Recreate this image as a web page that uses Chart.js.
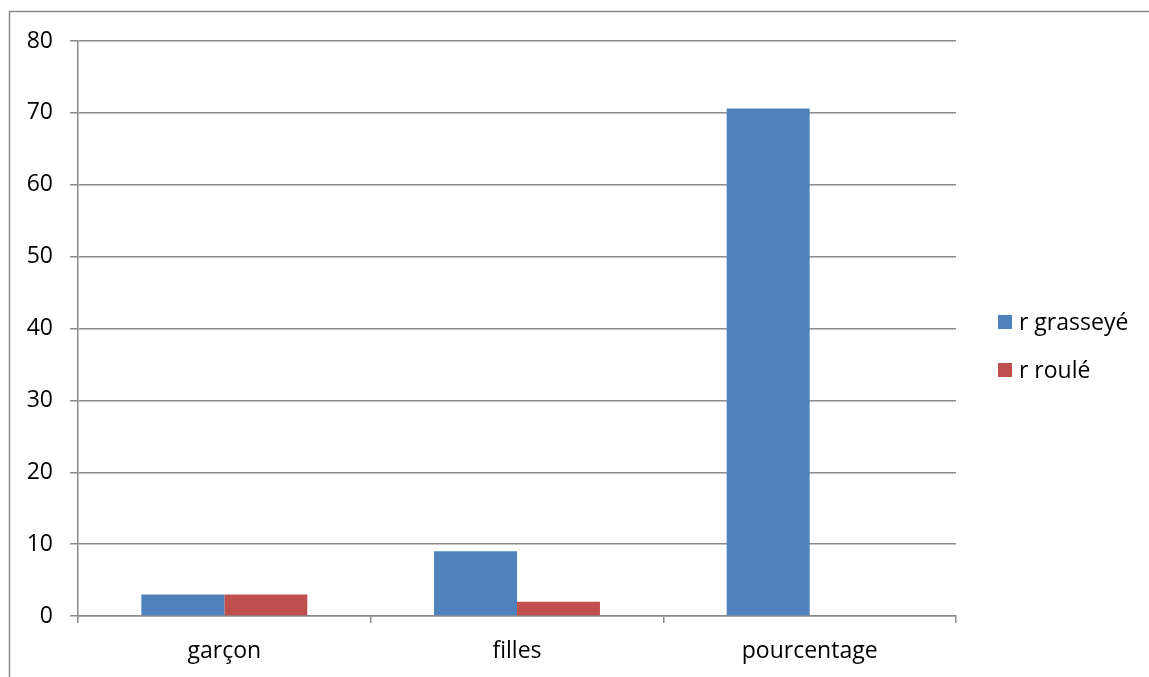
<!DOCTYPE html>
<html>
<head>
<meta charset="utf-8">
<script src="https://cdn.jsdelivr.net/npm/chart.js@4"></script>
<style>
  html, body { margin: 0; padding: 0; background: #ffffff; }
  #wrap { width: 1149px; height: 677px; position: relative; }
</style>
</head>
<body>
<div id="wrap"><canvas id="c" width="1149" height="677"></canvas></div>
<script>
const categories = ['garçon', 'filles', 'pourcentage'];
const seriesNames = ['r grasseyé', 'r roulé'];
const grasseye = [3, 9, 70.6];
const roule = [3, 2, 0];
const yTicks = [0, 10, 20, 30, 40, 50, 60, 70, 80];

const BLUE = '#4F81BD';
const RED = '#C0504D';
const GRID = '#8a8a8a';
const FONT = '"Open Sans", Lato, sans-serif';
const FONT_SIZE = 23;

// Outer frame of the chart object
const framePlugin = {
  id: 'frame',
  beforeDraw(chart) {
    const ctx = chart.ctx;
    ctx.save();
    ctx.fillStyle = '#ffffff';
    ctx.fillRect(0, 0, chart.width, chart.height);
    ctx.strokeStyle = '#8a8a8a';
    ctx.lineWidth = 1.5;
    ctx.strokeRect(9.5, 11.5, chart.width + 20, chart.height + 20);
    ctx.restore();
  }
};

// Legend on the right side, drawn from the datasets
const sideLegend = {
  id: 'sideLegend',
  afterDraw(chart) {
    const ctx = chart.ctx;
    ctx.save();
    ctx.font = FONT_SIZE + 'px ' + FONT;
    ctx.textBaseline = 'middle';
    ctx.textAlign = 'left';
    const x0 = 998, y0 = 322, step = 48, box = 14;
    chart.data.datasets.forEach((ds, i) => {
      const y = y0 + i * step;
      ctx.fillStyle = ds.backgroundColor;
      ctx.fillRect(x0, y - box / 2, box, box);
      ctx.fillStyle = '#000000';
      ctx.fillText(ds.label, x0 + 21, y + 1);
    });
    ctx.restore();
  }
};

new Chart(document.getElementById('c'), {
  type: 'bar',
  data: {
    labels: categories,
    datasets: [
      { label: seriesNames[0], data: grasseye, backgroundColor: BLUE },
      { label: seriesNames[1], data: roule, backgroundColor: RED }
    ]
  },
  options: {
    responsive: false,
    animation: false,
    devicePixelRatio: 1,
    layout: { padding: { left: 0, top: 41, right: 193, bottom: 0 } },
    datasets: { bar: { categoryPercentage: 0.567, barPercentage: 1.0 } },
    plugins: { legend: { display: false }, tooltip: { enabled: false } },
    scales: {
      x: {
        grid: { offset: true, drawOnChartArea: false, drawTicks: true, tickLength: 7, color: GRID, lineWidth: 1.5 },
        border: { color: GRID, width: 1.5 },
        ticks: { color: '#000000', font: { family: FONT, size: FONT_SIZE }, padding: 15 },
        afterFit(scale) { scale.height = 61; }
      },
      y: {
        min: 0, max: 80,
        afterBuildTicks(scale) { scale.ticks = yTicks.map(v => ({ value: v })); },
        grid: { color: GRID, lineWidth: 1.5, drawTicks: true, tickLength: 8 },
        border: { color: GRID, width: 1.5 },
        ticks: { color: '#000000', font: { family: FONT, size: FONT_SIZE }, padding: 17 },
        afterFit(scale) { scale.width = 78; }
      }
    }
  },
  plugins: [framePlugin, sideLegend]
});
</script>
</body>
</html>
